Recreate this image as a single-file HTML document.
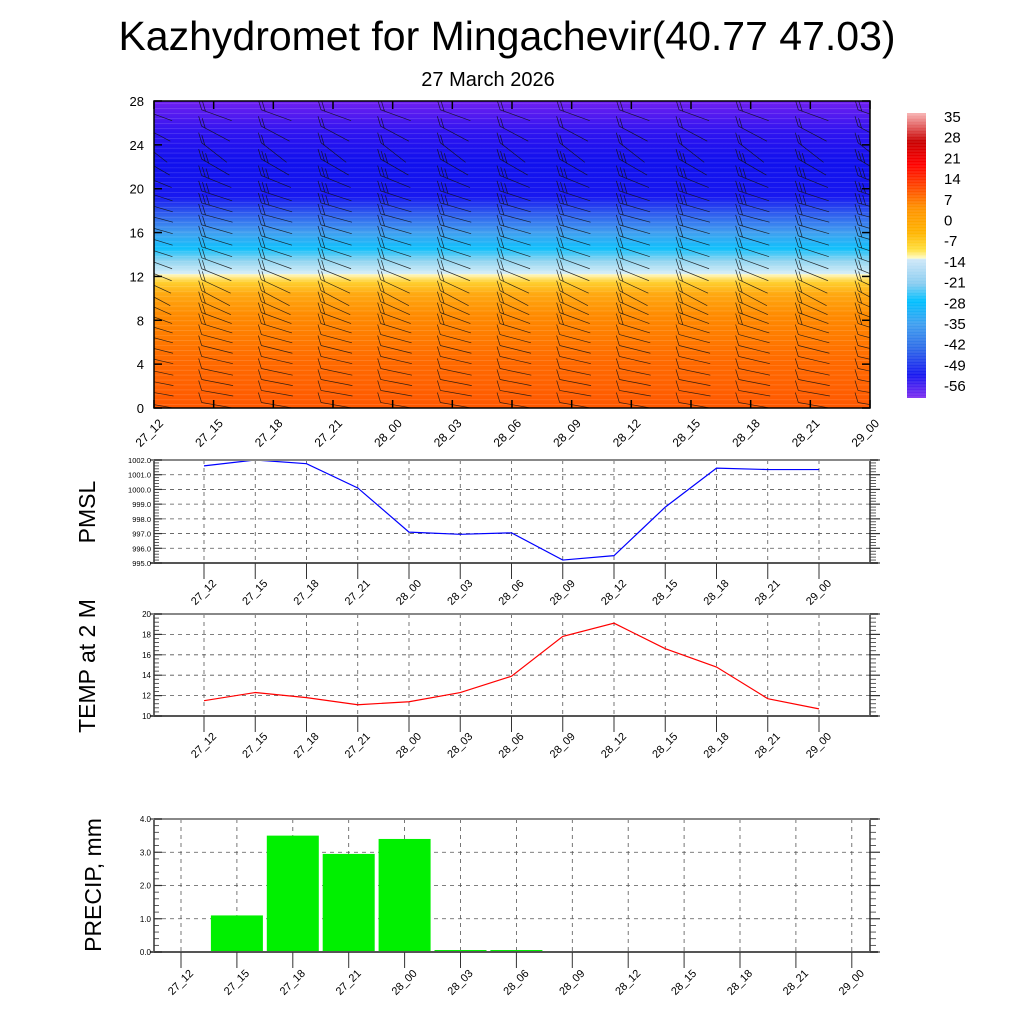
<!DOCTYPE html>
<html><head><meta charset="utf-8">
<style>
html,body{margin:0;padding:0;background:#fff;}
svg{display:block;font-family:"Liberation Sans",Arial,sans-serif;}
</style></head>
<body>
<svg id="chart" width="1024" height="1024" viewBox="0 0 1024 1024" xmlns="http://www.w3.org/2000/svg">
<defs>
<linearGradient id="tgrad" x1="0" y1="1" x2="0" y2="0">
<stop offset="0" stop-color="#ff5800"/>
<stop offset="0.15" stop-color="#ff6a00"/>
<stop offset="0.3" stop-color="#ff8a00"/>
<stop offset="0.37" stop-color="#ffa810"/>
<stop offset="0.41" stop-color="#ffd030"/>
<stop offset="0.435" stop-color="#fff8c0"/>
<stop offset="0.437" stop-color="#d8eef8"/>
<stop offset="0.48" stop-color="#90d4f0"/>
<stop offset="0.52" stop-color="#10c0fc"/>
<stop offset="0.57" stop-color="#40a0f0"/>
<stop offset="0.63" stop-color="#3060ee"/>
<stop offset="0.69" stop-color="#1818f0"/>
<stop offset="0.8" stop-color="#1010ee"/>
<stop offset="0.9" stop-color="#3014f0"/>
<stop offset="1" stop-color="#7020f0"/>
</linearGradient>
<radialGradient id="hot" cx="0.5" cy="1" r="0.5">
<stop offset="0" stop-color="#ff2000" stop-opacity="0.85"/>
<stop offset="1" stop-color="#ff2000" stop-opacity="0"/>
</radialGradient>
<linearGradient id="cbgrad" x1="0" y1="0" x2="0" y2="1">
<stop offset="0" stop-color="#f8b4b4"/>
<stop offset="0.1" stop-color="#c80000"/>
<stop offset="0.18" stop-color="#ff0000"/>
<stop offset="0.26" stop-color="#ff4800"/>
<stop offset="0.33" stop-color="#ff9000"/>
<stop offset="0.42" stop-color="#ffb400"/>
<stop offset="0.48" stop-color="#ffe040"/>
<stop offset="0.51" stop-color="#fffcc8"/>
<stop offset="0.512" stop-color="#d0e8f8"/>
<stop offset="0.6" stop-color="#88ccf0"/>
<stop offset="0.66" stop-color="#00c0ff"/>
<stop offset="0.74" stop-color="#40a0f0"/>
<stop offset="0.82" stop-color="#3070e8"/>
<stop offset="0.92" stop-color="#1818f0"/>
<stop offset="1" stop-color="#8030f0"/>
</linearGradient>
<clipPath id="clipC"><rect x="154" y="101" width="716" height="307"/></clipPath>
</defs>
<text x="507" y="50" font-size="41" text-anchor="middle">Kazhydromet for Mingachevir(40.77 47.03)</text>
<text x="488" y="86" font-size="20" text-anchor="middle">27 March 2026</text>
<g id="contour"></g>
<g id="colorbar"></g>
<g id="pmsl"></g>
<g id="temp"></g>
<g id="precip"></g>
</svg>
<script>
const NS="http://www.w3.org/2000/svg";
const timeLabels=["27_12","27_15","27_18","27_21","28_00","28_03","28_06","28_09","28_12","28_15","28_18","28_21","29_00"];
const pmslValues=[1001.6,1002.0,1001.75,1000.1,997.1,996.95,997.05,995.2,995.5,998.8,1001.45,1001.35,1001.35];
const pmslTicks=["995.0","996.0","997.0","998.0","999.0","1000.0","1001.0","1002.0"];
const tempValues=[11.5,12.3,11.8,11.1,11.4,12.3,13.9,17.8,19.1,16.6,14.8,11.7,10.7];
const tempTicks=["10","12","14","16","18","20"];
const precipValues=[0,1.1,3.5,2.95,3.4,0.05,0.05,0,0,0,0,0,0];
const precipTicks=["0.0","1.0","2.0","3.0","4.0"];
const heightTicks=["0","4","8","12","16","20","24","28"];
const cbLabels=["35","28","21","14","7","0","-7","-14","-21","-28","-35","-42","-49","-56"];
const barbLevels=[0.5,1.6,2.6,3.6,4.7,5.7,6.7,7.7,8.7,9.7,10.7,11.7,12.7,13.7,14.7,15.7,16.7,17.7,18.7,19.8,21.2,22.7,24.2,25.7,27.2];
const barbAngles=[-10,-10,-11,-12,-13,-14,-15,-17,-20,-24,-28,-25,-22,-20,-18,-17,-16,-15,-16,-18,-22,-30,-38,-28,-20];
const barbFeathers=[1,1,1,1,1,1,1,2,2,2,2,2,2,2,2,2,2,2,3,3,3,3,2,2,2];

function el(tag,attrs,parent,text){const e=document.createElementNS(NS,tag);for(const k in attrs)e.setAttribute(k,attrs[k]);if(text!==undefined)e.textContent=text;parent.appendChild(e);return e;}

(function(){
const g=document.getElementById('contour');
const L=154,R=870,T=101,B=408;
const xs=i=>L+i*(R-L)/12;
const ys=v=>B-v*(B-T)/28;
const bg=el('rect',{x:L,y:T,width:R-L,height:B-T,fill:'url(#tgrad)'},g);


const hot=el('ellipse',{cx:xs(7.8),cy:B,rx:230,ry:95,fill:'url(#hot)','clip-path':'url(#clipC)'},g);


const cl=el('g',{stroke:'#ffffff','stroke-opacity':0.2,'stroke-width':0.6,'clip-path':'url(#clipC)'},g);
for(let v=0.3;v<28;v+=0.45){el('line',{x1:L,x2:R,y1:ys(v),y2:ys(v)},cl);}
const bb=el('g',{stroke:'#111','stroke-opacity':0.85,'stroke-width':0.7,fill:'none','clip-path':'url(#clipC)'},g);


for(let i=0;i<13;i++){
 for(let k=0;k<barbLevels.length;k++){
  const x0=xs(i)-12, y0=ys(barbLevels[k]);
  const a=barbAngles[k]*Math.PI/180, len=32;
  const x1=x0+len*Math.cos(a), y1=y0-len*Math.sin(a);
  el('line',{x1:x0,y1:y0,x2:x1,y2:y1},bb);
  for(let f=0;f<barbFeathers[k];f++){
   const fx=x0+f*4*Math.cos(a), fy=y0-f*4*Math.sin(a);
   el('line',{x1:fx,y1:fy,x2:fx-3,y2:fy-10},bb);
  }
 }
}
el('rect',{x:L,y:T,width:R-L,height:B-T,fill:'none',stroke:'#000','stroke-width':1.5},g);
heightTicks.forEach((t,j)=>{const v=+t;const y=ys(v);
 el('line',{x1:L,x2:L+8,y1:y,y2:y,stroke:'#000','stroke-width':1.5},g);
 el('line',{x1:R,x2:R-8,y1:y,y2:y,stroke:'#000','stroke-width':1.5},g);
 const tx=el('text',{x:L-10,y:y+5,'font-size':13,'text-anchor':'end'},g,t);
 
 
});
timeLabels.forEach((t,i)=>{const x=xs(i);
 el('line',{x1:x,x2:x,y1:B,y2:B-8,stroke:'#000','stroke-width':1.5},g);
 el('line',{x1:x,x2:x,y1:T,y2:T+8,stroke:'#000','stroke-width':1.5},g);
 const tx=el('text',{transform:`translate(${x+10},${424}) rotate(-45)`,'font-size':12,'text-anchor':'end'},g,t);
 
 
});
})();

(function(){
const g=document.getElementById('colorbar');
el('rect',{x:907,y:113,width:19,height:285,fill:'url(#cbgrad)'},g);
const bl=el('g',{stroke:'#fff','stroke-opacity':0.25,'stroke-width':0.5},g);
for(let y=115;y<398;y+=3)el('line',{x1:907,x2:926,y1:y,y2:y},bl);
cbLabels.forEach((t,i)=>{
 const tx=el('text',{x:944,y:122+i*20.7,'font-size':15},g,t);
 
 
});
})();

function panel(id,cfg){
const g=document.getElementById(id);
const {L,R,T,B,min,max,ticks,x0,dx,labelY,title,titleY}=cfg;
const ys=v=>B-(v-min)*(B-T)/(max-min);
const xs=i=>x0+i*dx;
ticks.forEach(t=>{const y=ys(+t);
 if(y>T+1&&y<B-1)el('line',{x1:L,x2:R,y1:y,y2:y,stroke:'#555','stroke-width':0.8,'stroke-dasharray':'4,4'},g);
});
timeLabels.forEach((t,i)=>{const x=xs(i);
 el('line',{x1:x,x2:x,y1:T,y2:B,stroke:'#555','stroke-width':0.8,'stroke-dasharray':'4,4'},g);
});
if(cfg.bars){
 cfg.bars.forEach((v,i)=>{if(v<=0)return;
  const h=Math.max(B-ys(v),2);
  const r=el('rect',{x:xs(i)-26,y:B-h,width:52,height:h,fill:'#00f000'},g);
  
  
 });
}
if(cfg.line){
 const pts=cfg.line.map((v,i)=>`${xs(i)},${ys(v)}`).join(' ');
 const p=el('polyline',{points:pts,fill:'none',stroke:cfg.color,'stroke-width':1.2},g);
 
 
}
el('rect',{x:L,y:T,width:R-L,height:B-T,fill:'none',stroke:'#000','stroke-width':1.2},g);
el('line',{x1:L-4,x2:R+8,y1:T,y2:T,stroke:'#888','stroke-width':2},g);
el('line',{x1:L-4,x2:R+8,y1:B,y2:B,stroke:'#555','stroke-width':2},g);
const nMinor=(ticks.length-1)*5;
for(let j=0;j<=nMinor;j++){const y=T+j*(B-T)/nMinor;const major=j%5===0;
 el('line',{x1:L,x2:L+(major?8:5),y1:y,y2:y,stroke:'#333','stroke-width':major?1.2:0.8},g);
 el('line',{x1:R,x2:R+(major?10:6),y1:y,y2:y,stroke:'#333','stroke-width':major?1.2:0.8},g);
}
ticks.forEach(t=>{const y=ys(+t);
 const tx=el('text',{x:L-3,y:y+3,'font-size':cfg.tickFont,'text-anchor':'end'},g,t);
 
 
});
timeLabels.forEach((t,i)=>{const x=xs(i);
 el('line',{x1:x,x2:x,y1:B,y2:B+16,stroke:'#333','stroke-width':1},g);
 const tx=el('text',{transform:`translate(${x+13},${labelY}) rotate(-45)`,'font-size':11,'text-anchor':'end'},g,t);
 
 
});
const yt=el('text',{transform:`translate(${cfg.titleX},${titleY}) rotate(-90)`,'font-size':23,'text-anchor':'middle'},g,title);


}
panel('pmsl',{L:154,R:870,T:460,B:563,min:995,max:1002,ticks:pmslTicks,x0:204,dx:51.25,labelY:584,title:'PMSL',titleX:95,titleY:512,line:pmslValues,color:'#0000ff',tickFont:7.5});
panel('temp',{L:154,R:870,T:614,B:716,min:10,max:20,ticks:tempTicks,x0:204,dx:51.25,labelY:737,title:'TEMP at 2 M',titleX:95,titleY:666,line:tempValues,color:'#ff0000',tickFont:8});
panel('precip',{L:154,R:870,T:819,B:952,min:0,max:4,ticks:precipTicks,x0:181,dx:55.9,labelY:974,title:'PRECIP, mm',titleX:101,titleY:885,bars:precipValues,tickFont:8});
</script>
</body></html>
